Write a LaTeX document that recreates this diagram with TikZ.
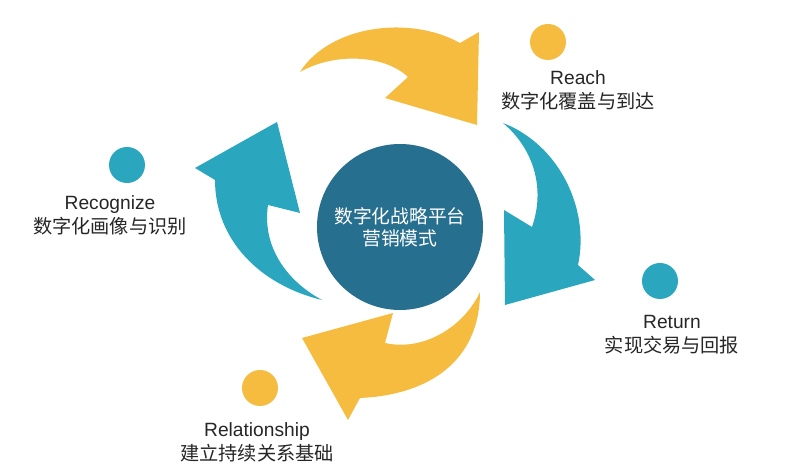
\documentclass[tikz,border=0pt]{standalone}
\usepackage{fontspec}
\setmainfont{Liberation Sans}
\newfontfamily\cjk{Noto Sans CJK SC}
\usepackage{tikz}
\usepackage{xcolor}
\usetikzlibrary{positioning}
\definecolor{gold}{HTML}{F5BC3F}
\definecolor{teal2}{HTML}{2AA6BF}
\definecolor{hubblue}{HTML}{276F8F}
\tikzstyle{hub} = [circle, minimum size=83pt, inner sep=0pt, fill=hubblue, text=white, align=center, font=\fontsize{9.4}{11}\selectfont]
\tikzstyle{dot} = [circle, minimum size=18pt, inner sep=0pt]
\tikzstyle{caption} = [align=center, text=black!85, font=\fontsize{9.6}{12}\selectfont, inner sep=0pt]
\tikzstyle{goldarrow} = [fill=gold, draw=none]
\tikzstyle{tealarrow} = [fill=teal2, draw=none]

\begin{document}
\begin{tikzpicture}[x=0.5pt, y=-0.5pt]
        \useasboundingbox (0,0) rectangle (800,469);

        % curved arrows round the hub
        \path [goldarrow] (300,72) .. controls (330,25) and (410,15) .. (460,43)
            -- (479,32) -- (477,125) -- (385,98) -- (408,77)
            .. controls (385,55) and (335,52) .. (300,72) -- cycle;
        \path [tealarrow] (503,123) .. controls (560,145) and (590,210) .. (578,265)
            -- (595,280) -- (505,305) -- (504,210) -- (532,227)
            .. controls (545,190) and (535,150) .. (503,123) -- cycle;
        \path [goldarrow] (480,292) .. controls (480,360) and (430,395) .. (360,398)
            -- (348,420) -- (302,338) -- (393,313) -- (385,343)
            .. controls (425,352) and (465,325) .. (480,292) -- cycle;
        \path [tealarrow] (322,300) .. controls (260,285) and (215,240) .. (215,180)
            -- (195,168) -- (277,122) -- (300,213) -- (268,205)
            .. controls (262,245) and (285,280) .. (322,300) -- cycle;

        \node (hub) [hub] at (400,227) {{\cjk 数字化战略平台}\\{\cjk 营销模式}};

        \node (reachDot) [dot, fill=gold] at (548,42) {};
        \node (returnDot) [dot, fill=teal2] at (660,281) {};
        \node (relationDot) [dot, fill=gold] at (260,388) {};
        \node (recognizeDot) [dot, fill=teal2] at (127,165) {};

        \node (reach) [caption] at (578,90) {Reach\\{\cjk 数字化覆盖与到达}};
        \node (return) [caption] at (672,335) {Return\\{\cjk 实现交易与回报}};
        \node (relation) [caption] at (257,442) {Relationship\\{\cjk 建立持续关系基础}};
        \node (recognize) [caption] at (110,215) {Recognize\\{\cjk 数字化画像与识别}};

    \end{tikzpicture}
\end{document}
